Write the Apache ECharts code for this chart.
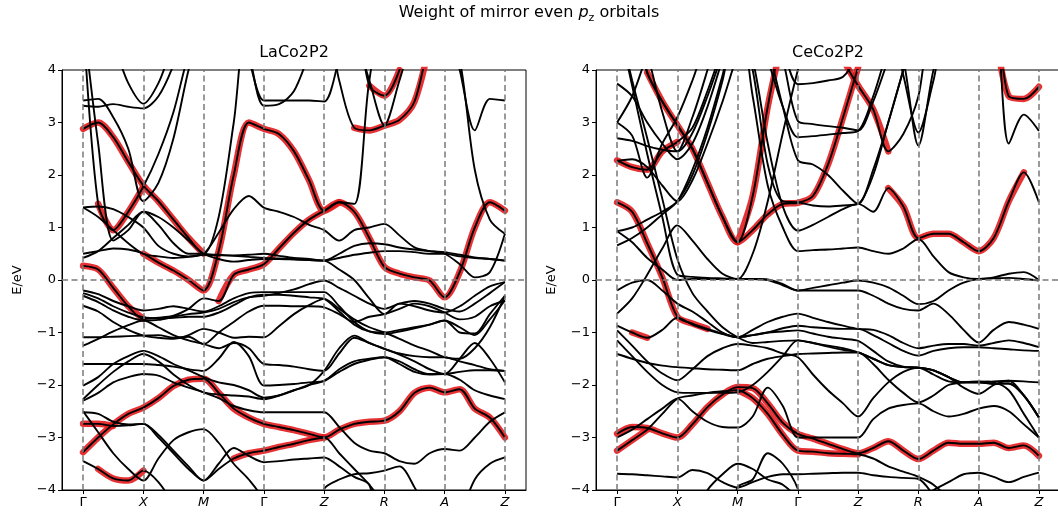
<!DOCTYPE html>
<html>
<head>
<meta charset="utf-8">
<title>Weight of mirror even pz orbitals</title>
<script src="https://cdn.jsdelivr.net/npm/echarts@6/dist/echarts.min.js"></script>
<style>
  html, body { margin: 0; padding: 0; background: #fff; }
  #chart { width: 1058px; height: 520px; }
</style>
</head>
<body>
<div id="chart"></div>
<script>
// high-symmetry path, energies are sampled every kStep along it
var kLabels = ['Γ', 'X', 'M', 'Γ', 'Z', 'R', 'A', 'Z'];
var kTicks = [0, 1, 2, 3, 4, 5, 6, 7];
var kStep = 0.25;
var eTicks = [-4, -3, -2, -1, 0, 1, 2, 3, 4];
var panelTitles = ['LaCo2P2', 'CeCo2P2'];

// LaCo2P2 bands, 29 samples each: Γ..X | X..M | M..Γ | Γ..Z | Z..R | R..A | A..Z | Z
var laBlack = [
  [5,5,4.5,3.75, 3.36,3.75,4.5,5, 5,5,5,5, 5,5,5,5, 5,5,5,5, 5,5,5,5, 5,5,5,5, 5],
  [3.32,3.3,3.35,3.3, 3.27,3.5,4.1,5, 5,5,5,4.3, 3.32,3.35,3.6,4.3, 5,5,5,5, 5,5,5,5, 5,5,5,5, 5],
  [3.42,3.45,3.1,2.5, 1.5,1.85,2.7,4.0, 5,5,5,4.2, 3.42,3.42,3.42,3.42, 3.4,4.2,5,5, 5,5,5,5, 5,5,5,5, 5],
  [5,2.6,0.75,0.95, 1.3,1.05,0.7,0.5, 0.5,1.2,3.0,5, 5,5,5,5, 5,5,5,5, 5,5,5,5, 5,5,5,5, 5],
  [1.38,1.4,1.35,1.2, 1.0,0.65,0.5,0.45, 0.5,0.9,1.35,1.6, 1.38,1.3,1.2,1.05, 0.95,0.75,0.95,1.0, 1.07,0.85,0.62,0.55, 0.53,0.48,0.43,0.4, 0.37],
  [1.38,1.2,0.95,0.7, 0.5,0.45,0.42,0.44, 0.48,0.47,0.47,0.48, 0.5,0.46,0.42,0.4, 0.37,0.5,0.65,0.7, 0.68,0.62,0.58,0.55, 0.5,0.3,0.05,0.15, 0.88],
  [0.42,0.55,0.8,1.05, 1.3,1.2,1.0,0.75, 0.5,0.4,0.35,0.38, 0.4,0.4,0.39,0.38, 0.37,0.42,0.48,0.52, 0.55,0.55,0.53,0.5, 0.5,0.45,0.42,0.4, 0.37],
  [5,5,5,5, 5,5,5,5, 5,5,5,5, 5,5,5,5, 5,5,5,5, 5,5,5,5, 5,4.2,2.1,1.15, 0.88],
  [5,5,5,5, 5,5,5,5, 5,5,5,5, 5,5,5,5, 5,5,4.7,3.8, 2.95,3.8,4.7,5, 5,5,5,5, 5],
  [5,5,5,5, 5,5,5,5, 5,5,5,5, 5,5,5,5, 5,5,5,5, 5,5,5,5, 5,4.0,2.85,3.45, 3.42],
  [-0.2,-0.27,-0.4,-0.5, -0.58,-0.55,-0.5,-0.55, -0.6,-0.5,-0.35,-0.25, -0.23,-0.23,-0.23,-0.23, -0.23,-0.5,-0.8,-0.98, -1.03,-0.98,-0.92,-0.85, -0.77,-1.0,-1.02,-0.65, -0.3],
  [-0.25,-0.35,-0.5,-0.62, -0.71,-0.73,-0.72,-0.7, -0.7,-0.62,-0.48,-0.33, -0.28,-0.28,-0.3,-0.33, -0.36,-0.6,-0.85,-0.98, -1.0,-0.95,-0.9,-0.85, -0.77,-0.9,-1.05,-0.75, -0.39],
  [-0.3,-0.42,-0.58,-0.7, -0.77,-0.76,-0.7,-0.65, -0.62,-0.55,-0.42,-0.33, -0.3,-0.25,-0.18,-0.08, -0.01,-0.15,-0.3,-0.45, -0.55,-0.45,-0.4,-0.45, -0.55,-0.6,-0.45,-0.25, -0.04],
  [-0.49,-0.6,-0.8,-0.95, -1.06,-1.1,-1.12,-1.05, -0.93,-1.0,-1.1,-1.08, -1.09,-0.88,-0.65,-0.48, -0.36,-0.55,-0.75,-0.9, -1.0,-1.12,-1.25,-1.35, -1.47,-1.5,-1.3,-0.9, -0.3],
  [-1.09,-1.09,-1.08,-1.07, -1.06,-1.05,-1.1,-1.08, -1.22,-1.0,-0.8,-0.6, -0.49,-0.49,-0.5,-0.5, -0.52,-0.65,-0.8,-0.7, -0.65,-0.55,-0.45,-0.5, -0.62,-0.75,-0.7,-0.5, -0.39],
  [-1.25,-1.12,-0.98,-0.86, -0.77,-0.9,-1.05,-1.15, -1.22,-1.3,-1.2,-1.3, -1.6,-1.62,-1.65,-1.7, -1.73,-1.4,-1.1,-1.2, -1.31,-1.4,-1.45,-1.47, -1.47,-1.55,-1.62,-1.7, -1.73],
  [-1.6,-1.6,-1.6,-1.6, -1.6,-1.62,-1.65,-1.7, -1.73,-1.5,-1.18,-1.45, -2.01,-2.0,-1.98,-1.95, -1.92,-1.7,-1.55,-1.5, -1.47,-1.55,-1.7,-1.79, -1.79,-1.5,-1.2,-1.5, -1.95],
  [-2.01,-1.85,-1.6,-1.45, -1.35,-1.45,-1.6,-1.72, -1.85,-1.95,-2.0,-2.1, -2.24,-2.2,-2.1,-2.0, -1.92,-1.75,-1.6,-1.52, -1.47,-1.6,-1.75,-1.8, -1.79,-1.9,-2.1,-2.2, -2.27],
  [-2.27,-2.0,-1.75,-1.55, -1.41,-1.55,-1.8,-2.0, -2.14,-2.18,-2.2,-2.22, -2.27,-2.2,-2.1,-2.0, -1.73,-1.3,-1.06,-1.2, -1.31,-1.42,-1.55,-1.7, -1.79,-1.75,-1.72,-1.72, -1.73],
  [-2.3,-2.15,-1.95,-1.85, -1.79,-1.82,-1.95,-2.05, -2.14,-2.25,-2.4,-2.48, -2.52,-2.52,-2.52,-2.52, -2.52,-2.8,-3.1,-3.25, -3.3,-3.45,-3.5,-3.3, -3.22,-3.25,-3.0,-2.7, -2.52],
  [-2.52,-2.55,-2.7,-2.75, -2.74,-3.0,-3.3,-3.6, -3.82,-3.5,-3.2,-3.35, -3.47,-3.45,-3.42,-3.4, -3.38,-3.55,-3.75,-3.9, -5,-5,-5,-5, -5,-4.5,-3.8,-3.5, -3.38],
  [-2.5,-2.9,-3.3,-3.6, -3.82,-3.4,-3.05,-2.9, -2.84,-3.1,-3.5,-3.8, -4.2,-5,-5,-5, -5,-5,-5,-5, -5,-5,-5,-5, -5,-5,-5,-5, -5],
  [-5,-5,-5,-5, -5,-5,-5,-5, -5,-5,-5,-5, -5,-5,-5,-5, -3.98,-3.8,-3.7,-3.68, -3.63,-3.55,-3.95,-4.5, -5,-5,-5,-5, -5]
];
// bands carrying p_z weight, with the sample ranges where the weight shows
var laRed = [
  [2.88,3.0,2.72,2.25, 1.8,1.5,1.15,0.8, 0.5,0.48,0.46,0.44, 0.42,0.41,0.4,0.38, 0.37,0.2,0.0,-0.35, -0.65,-0.45,-0.5,-0.58, -0.62,-0.5,-0.3,-0.12, -0.04],
  [5,1.45,0.95,1.3, 1.78,2.4,3.2,4.3, 5,5,5,5, 5,5,5,5, 5,5,5,5, 5,5,5,5, 5,5,5,5, 5],
  [0.5,0.55,0.6,0.58, 0.5,0.33,0.18,0.0, -0.2,0.55,2.0,3.0, 2.88,2.78,2.45,1.9, 1.32,1.48,1.45,3.8, 5,5,5,5, 5,5,5,5, 5],
  [0.27,0.2,-0.15,-0.5, -0.74,-0.72,-0.68,-0.55, -0.35,-0.4,0.1,0.2, 0.3,0.6,0.9,1.15, 1.32,1.48,1.3,0.8, 0.25,0.12,0.05,-0.01, -0.33,0.15,1.0,1.48, 1.32],
  [-3.28,-3.0,-2.75,-2.55, -2.43,-2.25,-2.02,-1.9, -1.88,-2.15,-2.45,-2.62, -2.74,-2.8,-2.86,-2.93, -3.0,-2.85,-2.74,-2.7, -2.68,-2.5,-2.15,-2.05, -2.14,-2.08,-2.45,-2.62, -3.0],
  [-2.74,-2.74,-2.78,-2.77, -2.74,-2.95,-3.25,-3.55, -3.82,-3.6,-3.4,-3.3, -3.25,-3.18,-3.12,-3.05, -3.0,-3.3,-3.6,-3.9, -4.3,-5,-5,-5, -5,-5,-5,-5, -5],
  [-3.45,-3.6,-3.78,-3.82, -3.63,-3.85,-4.3,-5, -5,-5,-5,-5, -5,-5,-5,-5, -5,-5,-5,-5, -5,-5,-5,-5, -5,-5,-5,-5, -5],
  [5,5,5,5, 5,5,5,5, 5,5,5,5, 5,5,5,5, 5,5,5,3.7, 3.51,4.0,5,5, 5,5,5,5, 5],
  [5,5,5,5, 5,5,5,5, 5,5,5,5, 5,5,5,5, 5,3.8,2.9,2.85, 2.94,3.05,3.4,4.5, 5,5,5,5, 5]
];
var laRedSpans = [
  [[0, 8]], [[1, 4]], [[4, 17]], [[0, 4], [9, 28]], [[0, 28]],
  [[0, 2], [10, 16]], [[1, 4]], [[19, 21]], [[18, 23]]
];

// CeCo2P2 bands
var ceBlack = [
  [3.74,3.5,3.0,2.6, 2.3,2.6,3.3,4.2, 5,5,5,4.4, 3.73,3.75,3.8,3.87, 4.3,5,5,5, 5,5,5,5, 5,5,5,5, 5],
  [3.0,2.75,1.95,2.6, 3.1,3.8,4.6,5, 5,5,5,4.2, 3.03,2.97,2.93,2.9, 2.85,3.4,4.2,5, 5,5,5,5, 5,5,5,5, 5],
  [2.7,2.65,2.55,2.48, 2.45,2.8,3.5,4.3, 5,5,4.2,3.3, 2.72,2.74,2.77,2.8, 2.84,3.5,4.4,5, 5,5,5,5, 5,5,5,5, 5],
  [2.27,2.3,2.15,1.8, 1.5,1.9,2.6,3.4, 4.3,5,4.4,3.3, 2.28,2.2,2.0,1.7, 1.45,2.1,3.0,4.0, 5,5,5,5, 5,5,5,5, 5],
  [0.93,0.72,0.42,0.2, 0.0,0.02,0.02,0.02, 0.02,0.02,0.01,-0.08, -0.2,-0.2,-0.2,-0.2, -0.2,-0.3,-0.45,-0.55, -0.58,-0.45,-0.65,-0.95, -1.19,-0.95,-0.8,-0.85, -0.93],
  [-0.64,-0.35,0.1,0.6, 1.04,0.75,0.4,0.12, 0.02,0.5,1.5,2.8, 4.0,5,5,5, 5,5,5,5, 5,5,5,5, 5,5,5,5, 5],
  [-0.2,-0.05,0.0,-0.2, -0.45,-0.6,-0.8,-1.0, -1.09,-0.95,-0.8,-0.7, -0.64,-0.72,-0.8,-0.87, -0.93,-0.95,-1.05,-1.2, -1.3,-1.25,-1.22,-1.22, -1.25,-1.2,-1.15,-1.2, -1.28],
  [5,5,5,5, 5,5,5,5, 5,3.5,1.8,1.0, 0.55,0.57,0.58,0.6, 0.62,0.55,0.5,0.6, 0.78,0.45,0.15,0.05, 0.02,0.05,0.12,0.15, 0.0],
  [5,5,5,5, 5,5,5,5, 5,5,5,5, 5,5,5,5, 5,5,5,3.9, 2.81,3.8,5,5, 5,5,5,5, 5],
  [5,5,5,5, 5,5,5,5, 5,5,5,5, 5,5,5,5, 5,5,5,4.2, 2.56,4.0,5,5, 5,5,5,5, 5],
  [5,5,5,5, 5,5,5,5, 5,5,5,5, 5,5,5,5, 5,5,5,5, 5,5,5,5, 5,5,2.6,3.15, 2.84],
  [5,3.7,2.4,1.2, 0.1,0.06,0.04,0.03, 0.02,0.02,0.0,-0.1, -0.2,-0.15,-0.1,-0.05, -0.01,-0.05,-0.14,-0.3, -0.46,-0.4,-0.2,-0.05, 0.02,0.03,0.04,0.02, -0.01],
  [-0.96,-1.25,-1.55,-1.78, -1.91,-1.7,-1.45,-1.3, -1.22,-1.25,-1.3,-1.4, -1.47,-1.8,-2.1,-2.35, -2.6,-2.25,-1.95,-1.75, -1.67,-1.8,-1.93,-1.95, -1.95,-1.93,-1.92,-1.93, -1.95],
  [-1.15,-1.45,-1.75,-2.0, -2.14,-2.15,-2.15,-2.15, -2.14,-2.0,-1.75,-1.45, -1.15,-1.2,-1.27,-1.33, -1.38,-1.5,-1.62,-1.66, -1.67,-1.72,-1.85,-1.95, -1.95,-1.98,-1.97,-2.2, -2.62],
  [-1.41,-1.5,-1.58,-1.63, -1.66,-1.68,-1.7,-1.71, -1.72,-1.6,-1.5,-1.45, -1.41,-1.4,-1.39,-1.38, -1.38,-1.6,-1.9,-2.15, -2.33,-2.2,-2.0,-1.95, -1.93,-1.95,-2.1,-2.55, -3.0],
  [-3.0,-2.85,-2.65,-2.45, -2.26,-2.5,-2.7,-2.8, -2.81,-2.6,-2.05,-2.4, -3.0,-3.0,-3.0,-3.0, -3.0,-2.65,-2.45,-2.38, -2.35,-2.5,-2.6,-2.55, -2.45,-2.4,-2.5,-2.75, -3.0],
  [-3.69,-3.7,-3.72,-3.74, -3.76,-3.62,-3.68,-3.85, -3.95,-3.85,-3.75,-3.7, -3.7,-3.69,-3.68,-3.67, -3.67,-3.72,-3.75,-3.77, -3.79,-4.1,-4.5,-5, -5,-5,-5,-5, -5],
  [-5,-5,-5,-5, -5,-4.5,-4.0,-3.7, -3.5,-3.6,-3.8,-3.9, -4.2,-5,-5,-5, -5,-5,-5,-5, -5,-5,-5,-5, -5,-5,-5,-5, -5],
  [-5,-5,-5,-5, -5,-5,-5,-5, -3.95,-3.8,-3.3,-3.5, -3.98,-5,-5,-5, -5,-5,-5,-5, -5,-5,-5,-5, -5,-5,-5,-5, -5],
  [-5,-5,-5,-5, -5,-5,-5,-5, -5,-5,-5,-5, -5,-5,-5,-5, -5,-5,-5,-5, -4.2,-4.0,-3.85,-3.7, -3.67,-3.75,-3.85,-3.75, -3.67],
  [0.66,0.8,1.0,1.25, 1.5,2.1,2.9,3.9, 5,5,5,5, 5,5,5,5, 5,5,5,5, 5,5,5,5, 5,5,5,5, 5],
  [5,3.8,2.7,1.55, 0.4,-0.25,-0.6,-0.9, -1.09,-1.2,-1.18,-1.16, -1.15,-1.2,-1.25,-1.3, -1.38,-1.5,-1.62,-1.66, -1.67,-1.72,-1.85,-1.95, -1.95,-1.98,-1.97,-2.2, -2.62],
  [5,5,4.3,3.2, 2.45,3.1,4.0,5, 5,5,5,5, 5,5,5,5, 5,5,5,5, 5,5,5,5, 5,5,5,5, 5],
  [3.0,3.5,4.3,5, 5,5,5,5, 5,5,5,5, 5,5,5,5, 5,5,5,5, 5,5,5,5, 5,5,5,5, 5],
  [5,5,5,5, 5,5,5,5, 5,4.0,2.2,1.5, 1.48,1.42,1.4,1.42, 1.45,2.0,3.0,4.0, 5,5,5,5, 5,5,5,5, 5]
];
var ceRed = [
  [1.48,1.3,0.7,0.05, -0.7,-0.83,-0.93,-1.02, -1.09,-1.05,-1.0,-0.92, -0.87,-0.9,-0.92,-0.93, -0.93,-1.05,-1.2,-1.35, -1.44,-1.35,-1.3,-1.28, -1.28,-1.3,-1.32,-1.34, -1.35],
  [5,5,3.95,3.4, 2.95,2.5,1.85,1.2, 0.72,0.95,1.25,1.45, 1.47,1.6,2.2,3.1, 4.05,5,5,5, 5,5,5,5, 5,5,5,5, 5],
  [2.28,2.15,2.1,2.45, 2.63,2.9,3.6,4.4, 5,5,5,5, 5,5,5,5, 5,5,5,5, 5,5,5,5, 5,5,5,5, 5],
  [5,5,5,5, 5,5,5,5, 5,5,5,5, 5,5,5,4.2, 3.7,3.25,2.45,2.78, 3.5,5,5,5, 5,5,5,5, 5],
  [0.93,1.0,1.15,1.3, 1.5,2.0,2.8,3.8, 5,4.2,2.6,1.4, 0.94,1.05,1.2,1.35, 1.45,1.3,1.75,1.4, 0.8,0.88,0.88,0.72, 0.55,0.8,1.5,2.05, 1.48],
  [5,5,5,5, 5,5,5,5, 5,5,5,5, 5,5,5,5, 5,5,5,5, 5,5,5,5, 5,5,3.5,3.45, 3.68],
  [-2.93,-2.8,-2.82,-2.92, -3.0,-2.75,-2.42,-2.18, -2.04,-2.06,-2.35,-2.72, -2.93,-3.02,-3.12,-3.22, -3.3,-3.2,-3.07,-3.25, -3.41,-3.25,-3.1,-3.12, -3.12,-3.1,-3.2,-3.15, -3.35],
  [-3.25,-3.05,-2.85,-2.55, -2.26,-2.2,-2.15,-2.12, -2.1,-2.25,-2.55,-2.95, -3.25,-3.27,-3.3,-3.31, -3.32,-3.4,-3.55,-3.65, -3.75,-3.9,-4.2,-5, -5,-5,-5,-5, -5],
  [5,5,3.95,3.4, 2.95,2.5,1.85,1.2, 0.72,1.6,3.3,4.6, 5,5,5,5, 5,5,5,5, 5,5,5,5, 5,5,5,5, 5],
  [-0.87,-1.0,-1.1,-0.95, -0.72,-0.85,-0.95,-1.03, -1.09,-1.05,-1.0,-0.98, -0.96,-1.02,-1.08,-1.12, -1.16,-1.35,-1.55,-1.65, -1.67,-1.72,-1.85,-2.05, -2.17,-2.0,-1.92,-2.2, -2.62]
];
var ceRedSpans = [
  [[0, 6]], [[2, 16]], [[0, 4]], [[15, 18]], [[18, 27]],
  [[25, 28]], [[0, 28]], [[0, 2], [8, 16]], [[8, 11]], [[1, 2]]
];

var FONT = 'DejaVu Sans';
var RED = 'rgba(226, 22, 24, 0.88)';

function samples(band, from, to) {
  var out = [];
  for (var i = from; i <= to; i++) out.push([i * kStep, band[i]]);
  return out;
}

var series = [];
function addPanel(gi, black, red, spans) {
  // dashed guides at the path nodes and at E = 0
  series.push({
    type: 'line', xAxisIndex: gi, yAxisIndex: gi, data: [], silent: true, z: 1,
    markLine: {
      silent: true, symbol: ['none', 'none'], label: { show: false }, animation: false,
      lineStyle: { color: '#7a7a7a', width: 1.5, type: [6, 3.5] },
      data: kTicks.map(function (k) { return { xAxis: k }; }).concat([{ yAxis: 0 }])
    }
  });
  red.forEach(function (b, j) {
    spans[j].forEach(function (s) {
      series.push({
        type: 'line', xAxisIndex: gi, yAxisIndex: gi, data: samples(b, s[0], s[1]),
        smooth: 0.3, showSymbol: false, silent: true, z: 2,
        lineStyle: { color: RED, width: 6.5, cap: 'round', join: 'round' }
      });
    });
  });
  black.concat(red).forEach(function (b) {
    series.push({
      type: 'line', xAxisIndex: gi, yAxisIndex: gi, data: samples(b, 0, b.length - 1),
      smooth: 0.3, showSymbol: false, silent: true, z: 3,
      lineStyle: { color: '#000', width: 1.9 }
    });
  });
}
addPanel(0, laBlack, laRed, laRedSpans);
addPanel(1, ceBlack, ceRed, ceRedSpans);

function kFormat(v) {
  var lab = kLabels[kTicks.indexOf(v)] || '';
  return lab === 'Γ' ? '{g|Γ}' : '{it|' + lab + '}';
}

function xAxisFor(gi) {
  return {
    type: 'value', gridIndex: gi, min: -0.35, max: 7.35,
    splitLine: { show: false },
    axisLine: { show: true, onZero: false, lineStyle: { color: '#000', width: 1 } },
    axisTick: { show: true, customValues: kTicks, length: 4, lineStyle: { color: '#000' } },
    axisLabel: {
      customValues: kTicks, formatter: kFormat, margin: 6, color: '#000',
      fontFamily: FONT, fontSize: 13,
      rich: { g: { fontFamily: FONT, fontSize: 13, color: '#000' },
              it: { fontFamily: FONT, fontSize: 13, fontStyle: 'italic', color: '#000' } }
    }
  };
}
function yAxisFor(gi) {
  return {
    type: 'value', gridIndex: gi, min: -4, max: 4, interval: 1,
    name: 'E/eV', nameLocation: 'middle', nameGap: 38, nameRotate: 90,
    nameTextStyle: { fontFamily: FONT, fontSize: 13, color: '#000' },
    splitLine: { show: false },
    axisLine: { show: true, onZero: false, lineStyle: { color: '#000', width: 1 } },
    axisTick: { show: true, length: 4, lineStyle: { color: '#000' } },
    axisLabel: {
      margin: 6, color: '#000', fontFamily: FONT, fontSize: 13,
      formatter: function (v) { return v < 0 ? '\u2212' + (-v) : String(v); }
    }
  };
}

var chart = echarts.init(document.getElementById('chart'), null, { renderer: 'canvas' });
chart.setOption({
  animation: false,
  backgroundColor: '#fff',
  title: {
    text: 'Weight of mirror even {i|p}{s|z} orbitals',
    left: 'center', top: -3,
    textStyle: {
      fontFamily: FONT, fontSize: 16, fontWeight: 'normal', color: '#000', lineHeight: 22,
      rich: {
        i: { fontFamily: FONT, fontSize: 16, fontStyle: 'italic', color: '#000', lineHeight: 22 },
        s: { fontFamily: FONT, fontSize: 11, color: '#000', verticalAlign: 'bottom', lineHeight: 22 }
      }
    }
  },
  graphic: [
    { type: 'text', x: 294, y: 53, silent: true,
      style: { text: panelTitles[0], fontFamily: FONT, fontSize: 16, fill: '#000', align: 'center', verticalAlign: 'middle' } },
    { type: 'text', x: 828, y: 53, silent: true,
      style: { text: panelTitles[1], fontFamily: FONT, fontSize: 16, fill: '#000', align: 'center', verticalAlign: 'middle' } }
  ],
  grid: [
    { left: 62, top: 70, width: 464, height: 420, show: true, borderColor: '#000', borderWidth: 1,
      backgroundColor: 'transparent', containLabel: false, outerBoundsMode: 'none' },
    { left: 596, top: 70, width: 464, height: 420, show: true, borderColor: '#000', borderWidth: 1,
      backgroundColor: 'transparent', containLabel: false, outerBoundsMode: 'none' }
  ],
  xAxis: [xAxisFor(0), xAxisFor(1)],
  yAxis: [yAxisFor(0), yAxisFor(1)],
  series: series
});
</script>
</body>
</html>
